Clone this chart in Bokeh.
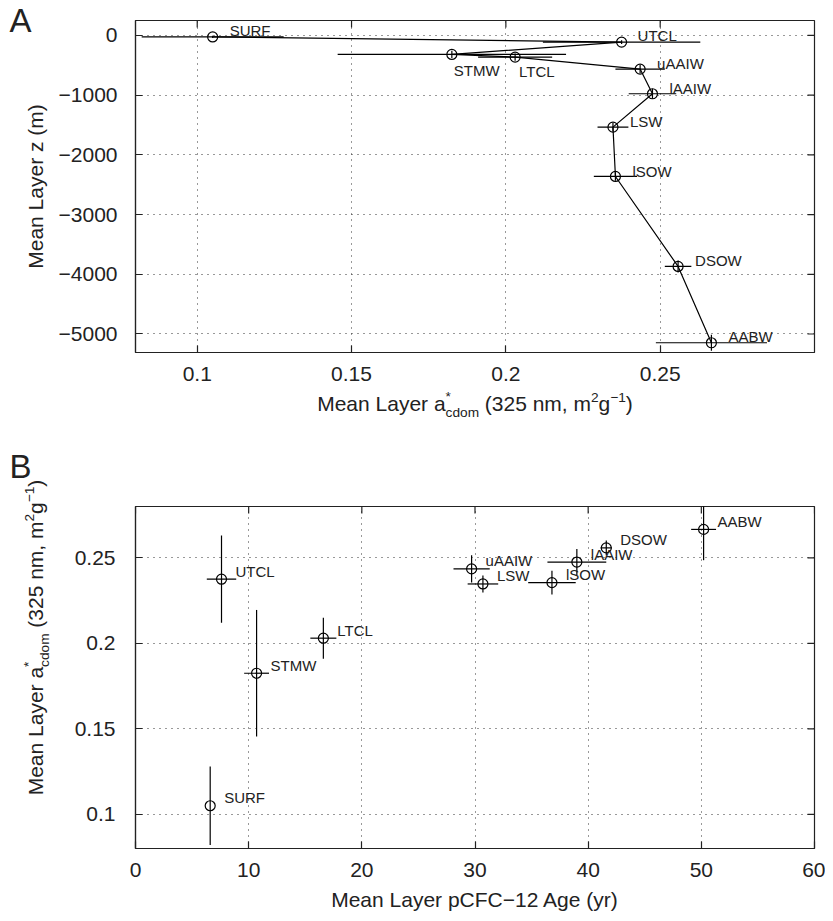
from math import pi
from bokeh.plotting import figure
from bokeh.models import Range1d, FixedTicker
from bokeh.layouts import column, row
from bokeh.embed import file_html
from bokeh.resources import INLINE
from bokeh.core.properties import value

FONT = "Liberation Sans"
TXT = "#222222"

# ---------------- data ----------------
layers = ["SURF", "UTCL", "STMW", "LTCL", "uAAIW", "lAAIW", "LSW", "lSOW", "DSOW", "AABW"]
acdom = [0.105, 0.2375, 0.1825, 0.203, 0.2435, 0.2475, 0.2347, 0.2355, 0.2558, 0.2666]
acdom_sd = [0.023, 0.0255, 0.037, 0.012, 0.008, 0.0077, 0.005, 0.007, 0.0043, 0.018]
depth = [-25, -112, -318, -363, -564, -977, -1536, -2362, -3869, -5147]
depth_sd = [20, 30, 60, 60, 70, 85, 70, 70, 100, 135]
age = [6.6, 7.6, 10.7, 16.6, 29.7, 39.0, 30.7, 36.8, 41.6, 50.2]
age_sd = [0.0, 1.3, 1.1, 1.15, 1.6, 2.6, 1.35, 2.1, 0.5, 1.1]

a_xticks = [0.1, 0.15, 0.2, 0.25]
a_xlabels = ["0.1", "0.15", "0.2", "0.25"]
a_yticks = [0, -1000, -2000, -3000, -4000, -5000]
a_ylabels = ["0", "\u22121000", "\u22122000", "\u22123000", "\u22124000", "\u22125000"]
b_xticks = [0, 10, 20, 30, 40, 50, 60]
b_xlabels = ["0", "10", "20", "30", "40", "50", "60"]
b_yticks = [0.1, 0.15, 0.2, 0.25]
b_ylabels = ["0.1", "0.15", "0.2", "0.25"]

a_xlim = (0.08, 0.30)
a_ylim = (-5310, 250)
b_xlim = (0, 60)
b_ylim = (0.08, 0.28)

# label placement (pixels) -- styling only
a_dx = [17, 16, 2, 4, 17, 17, 17, 17, 17, 17]
a_dy = [-6, -7, 16, 14, -6, -5, -6, -5, -6, -6]
b_dx = [14] * 10
b_dy = [-8] * 10

# ---------------- geometry ----------------
TOTAL_W = 825
STRIP_W = 52
FRAME_L = 135          # absolute x of frame left
FW = 679
BORDER_L = FRAME_L - STRIP_W
BORDER_R = TOTAL_W - FRAME_L - FW
H_A_TOP, FH_A, H_A_BOT = 20, 332, 38
XA_H = 44
H_B_TOP, FH_B, H_B_BOT = 72, 342, 38
XB_H = 27
PA_H = H_A_TOP + FH_A + H_A_BOT
PB_H = H_B_TOP + FH_B + H_B_BOT
Y_XA = PA_H
Y_PB = PA_H + XA_H
Y_XB = Y_PB + PB_H
TOTAL_H = Y_XB + XB_H
BL = 0.37   # measured baseline correction of the text glyph, in em

AW = {' ': 278, '(': 333, ')': 333, ',': 278, '.': 278, '*': 389, '\u2212': 584,
      'M': 833, 'L': 556, 'C': 722, 'F': 611, 'A': 667, 'a': 556, 'e': 556, 'n': 556,
      'y': 500, 'r': 333, 'm': 833, 'g': 556, 'c': 500, 'd': 556, 'o': 556, 'p': 556, 'z': 500}


def tw(s, size):
    return sum(AW.get(ch, 556) for ch in s) / 1000.0 * size


def strip(w, h, x0=0, bl=0, br=0):
    """Blank figure whose data coordinates are absolute pixel x (from x0) and y-up pixels."""
    s = figure(frame_width=w, frame_height=h, x_range=Range1d(x0, x0 + w),
               y_range=Range1d(0, h), title=None,
               output_backend="svg", toolbar_location=None, x_axis_type=None, y_axis_type=None,
               min_border=0, min_border_left=bl, min_border_right=br, min_border_top=0,
               min_border_bottom=0)
    s.grid.visible = False
    s.outline_line_color = None
    s.background_fill_color = "white"
    s.border_fill_color = "white"
    return s


def put(s, top, x_abs, y_abs, txt, size, angle=0.0):
    """x_abs / y_abs: absolute pixel position of the text baseline start."""
    h = s.frame_height
    if angle == 0:
        y_abs = y_abs - BL * size
    else:
        x_abs = x_abs - BL * size
    s.text(x=[x_abs], y=[h - (y_abs - top)], text=[txt], angle=angle,
           text_font=value(FONT), text_font_size=f"{size:.1f}px", text_baseline="alphabetic",
           text_align="left", text_color=TXT)


def compound(s, top, groups, center, base, fsize, vertical=False):
    def gw(g):
        if g == "gap":
            return tw(" ", fsize)
        return max(tw(t, fsize * sc) for t, sc, r in g)
    total = sum(gw(g) for g in groups)
    pos = center - total / 2.0 if not vertical else center + total / 2.0
    for g in groups:
        adv = gw(g)
        if g != "gap":
            for t, sc, r in g:
                rise = r * fsize
                if not vertical:
                    put(s, top, pos, base - rise, t, fsize * sc)
                else:
                    put(s, top, base - rise, pos, t, fsize * sc, angle=pi / 2)
        pos = pos + adv if not vertical else pos - adv


def style(p, xt, xl, yt, yl, xlim, ylim):
    xtk = FixedTicker(ticks=xt)
    ytk = FixedTicker(ticks=yt)
    p.xaxis.ticker = xtk
    p.yaxis.ticker = ytk
    p.xaxis.major_label_overrides = dict(zip(xt, xl))
    p.yaxis.major_label_overrides = dict(zip(yt, yl))
    p.xgrid.ticker = xtk
    p.ygrid.ticker = ytk
    for ax in p.xaxis + p.yaxis:
        ax.major_tick_in = 7
        ax.major_tick_out = 0
        ax.minor_tick_line_color = None
        ax.axis_line_color = "#222222"
        ax.axis_line_width = 1.2
        ax.major_tick_line_color = "#222222"
        ax.major_tick_line_width = 1.2
        ax.major_label_text_font = FONT
        ax.major_label_text_font_size = "21px"
        ax.major_label_text_color = TXT
    p.below[0].major_label_standoff = 14
    p.left[0].major_label_standoff = 18
    for g in (p.xgrid, p.ygrid):
        g.grid_line_color = "#333333"
        g.grid_line_dash = "1 5"
        g.grid_line_width = 1
    p.outline_line_color = "#222222"
    p.outline_line_width = 1.2
    p.background_fill_color = "white"
    p.border_fill_color = "white"
    # inward ticks on the top and right edges (half of each dash is clipped by the frame)
    p.scatter(x=xt, y=[ylim[1]] * len(xt), marker="dash", angle=pi / 2, size=14,
              line_color="#222222", line_width=1.2)
    p.scatter(x=[xlim[1]] * len(yt), y=yt, marker="dash", size=14,
              line_color="#222222", line_width=1.2)


acdom_groups = [[("Mean Layer a", 1, 0)], [("*", 0.65, 0.45), ("cdom", 0.65, -0.28)], "gap",
                [("(325 nm, m", 1, 0)], [("2", 0.65, 0.42)], [("g", 1, 0)],
                [("\u22121", 0.65, 0.42)], [(")", 1, 0)]]

# ---------------- panel A ----------------
srcA = dict(
    name=layers, x=acdom, y=depth,
    x0=[a - s for a, s in zip(acdom, acdom_sd)], x1=[a + s for a, s in zip(acdom, acdom_sd)],
    y0=[d - s for d, s in zip(depth, depth_sd)], y1=[d + s for d, s in zip(depth, depth_sd)],
    dx=a_dx, dy=a_dy)

pA = figure(frame_width=FW, frame_height=FH_A, output_backend="svg", toolbar_location=None,
            x_range=Range1d(*a_xlim), y_range=Range1d(*a_ylim), title=None,
            min_border_left=BORDER_L, min_border_right=BORDER_R,
            min_border_top=H_A_TOP, min_border_bottom=H_A_BOT)
style(pA, a_xticks, a_xlabels, a_yticks, a_ylabels, a_xlim, a_ylim)
pA.segment(x0="x0", y0="y", x1="x1", y1="y", source=srcA, line_color="black", line_width=1.2)
pA.segment(x0="x", y0="y0", x1="x", y1="y1", source=srcA, line_color="black", line_width=1.2)
pA.line(x="x", y="y", source=srcA, line_color="black", line_width=1.2)
pA.scatter(x="x", y="y", source=srcA, marker="circle", size=10, fill_color=None,
           line_color="black", line_width=1.2)
pA.text(x="x", y="y", text="name", source=srcA, x_offset="dx", y_offset="dy",
        text_font=value(FONT), text_font_size="15px", text_baseline="middle",
        text_align="left", text_color=TXT)

xA = strip(FW, XA_H, x0=FRAME_L, bl=BORDER_L, br=BORDER_R)
compound(xA, Y_XA, acdom_groups, FRAME_L + FW / 2.0, 411, 21)

# ---------------- panel B ----------------
srcB = dict(
    name=layers, x=age, y=acdom,
    x0=[a - s for a, s in zip(age, age_sd)], x1=[a + s for a, s in zip(age, age_sd)],
    y0=[a - s for a, s in zip(acdom, acdom_sd)], y1=[a + s for a, s in zip(acdom, acdom_sd)],
    dx=b_dx, dy=b_dy)

pB = figure(frame_width=FW, frame_height=FH_B, output_backend="svg", toolbar_location=None,
            x_range=Range1d(*b_xlim), y_range=Range1d(*b_ylim), title=None,
            min_border_left=BORDER_L, min_border_right=BORDER_R,
            min_border_top=H_B_TOP, min_border_bottom=H_B_BOT)
style(pB, b_xticks, b_xlabels, b_yticks, b_ylabels, b_xlim, b_ylim)
pB.left[0].major_label_standoff = 20
pB.segment(x0="x0", y0="y", x1="x1", y1="y", source=srcB, line_color="black", line_width=1.2)
pB.segment(x0="x", y0="y0", x1="x", y1="y1", source=srcB, line_color="black", line_width=1.2)
pB.scatter(x="x", y="y", source=srcB, marker="circle", size=10, fill_color=None,
           line_color="black", line_width=1.2)
pB.text(x="x", y="y", text="name", source=srcB, x_offset="dx", y_offset="dy",
        text_font=value(FONT), text_font_size="15px", text_baseline="middle",
        text_align="left", text_color=TXT)

xB = strip(FW, XB_H, x0=FRAME_L, bl=BORDER_L, br=BORDER_R)
lab_b = "Mean Layer pCFC\u221212 Age (yr)"
put(xB, Y_XB, FRAME_L + FW / 2.0 - tw(lab_b, 21) / 2.0, 907, lab_b, 21)

# ---------------- left strip: panel letters and y labels ----------------
sL = strip(STRIP_W, TOTAL_H)
put(sL, 0, 9, 32, "A", 33)
lab_z = "Mean Layer z (m)"
put(sL, 0, 43, H_A_TOP + FH_A / 2.0 + tw(lab_z, 21) / 2.0, lab_z, 21, angle=pi / 2)
put(sL, 0, 9, 478, "B", 33)
compound(sL, 0, acdom_groups, 637, 43, 21, vertical=True)

layout = row(sL, column(pA, xA, pB, xB))
open("out.html", "w").write(file_html(layout, INLINE))
